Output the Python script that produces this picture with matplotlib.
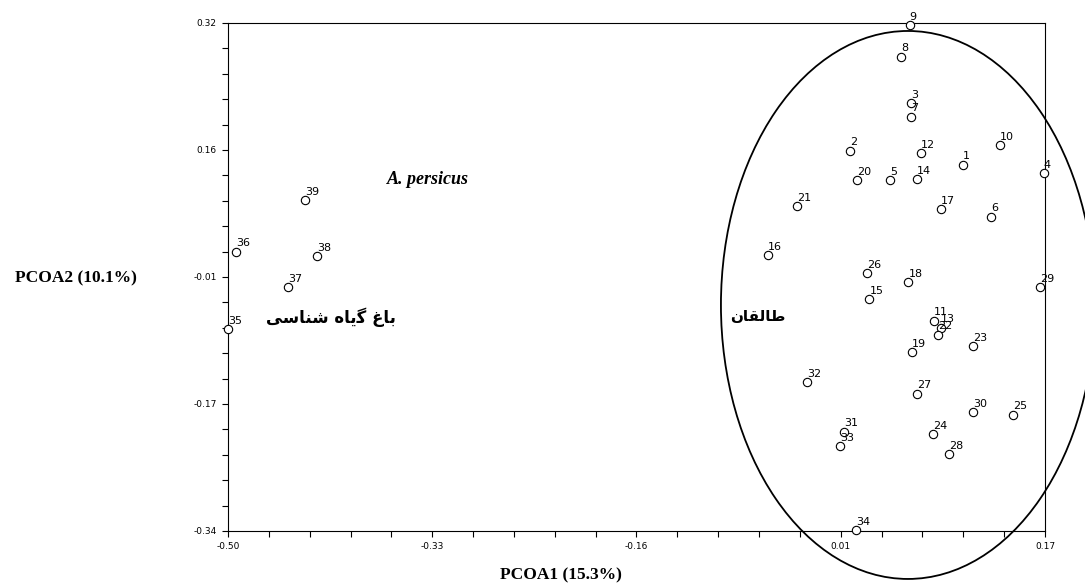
import matplotlib
matplotlib.use('Agg')
import matplotlib.pyplot as plt
from matplotlib.patches import Ellipse
import numpy as np

# PCoA scores for the 39 accessions
sample_ids = list(range(1, 40))
pcoa1 = [0.103, 0.010, 0.060, 0.169, 0.043, 0.126, 0.060, 0.052, 0.059, 0.133,
         0.079, 0.068, 0.085, 0.065, 0.026, -0.057, 0.085, 0.058, 0.061, 0.016,
         -0.033, 0.082, 0.111, 0.078, 0.144, 0.024, 0.065, 0.091, 0.166, 0.111,
         0.005, -0.025, 0.002, 0.015, -0.500, -0.493, -0.451, -0.427, -0.437]
pcoa2 = [0.136, 0.154, 0.216, 0.125, 0.116, 0.068, 0.198, 0.276, 0.317, 0.161,
         -0.067, 0.151, -0.076, 0.117, -0.039, 0.018, 0.078, -0.017, -0.108, 0.116,
         0.082, -0.085, -0.100, -0.214, -0.189, -0.005, -0.162, -0.240, -0.023, -0.186,
         -0.211, -0.147, -0.230, -0.339, -0.078, 0.023, -0.023, 0.017, 0.090]

x_ticks = [-0.50, -0.3325, -0.165, 0.0025, 0.17]
x_tick_labels = ['-0.50', '-0.33', '-0.16', '0.01', '0.17']
y_ticks = [0.32, 0.155, -0.01, -0.175, -0.34]
y_tick_labels = ['0.32', '0.16', '-0.01', '-0.17', '-0.34']


def shape_rtl(glyphs):
    # matplotlib has no bidi/shaping: glyphs are given in presentation forms,
    # logical order, and reversed here for left-to-right drawing
    return ''.join(reversed(glyphs))


# باغ گیاه شناسی
garden = shape_rtl('\uFE91\uFE8E\uFECD \uFB94\uFBFE\uFE8E\uFEE9 \uFEB7\uFEE8\uFE8E\uFEB3\uFBFD')
# طالقان
taleghan = shape_rtl('\uFEC3\uFE8E\uFEDF\uFED8\uFE8E\uFEE5')

fig = plt.figure(figsize=(10.85, 5.86), dpi=100)
ax = fig.add_axes([0.2101, 0.0939, 0.7530, 0.8669])

ax.plot(pcoa1, pcoa2, linestyle='none', marker='o', markersize=6,
        markerfacecolor='white', markeredgecolor='black', markeredgewidth=0.8,
        clip_on=False, zorder=3)
for sid, x, y in zip(sample_ids, pcoa1, pcoa2):
    ax.annotate(str(sid), (x, y), xytext=(0, 2.5), textcoords='offset points',
                ha='left', va='bottom', fontsize=8, color='black',
                annotation_clip=False, zorder=4)

ax.set_xlim(-0.50, 0.17)
ax.set_ylim(-0.34, 0.32)
ax.set_xticks(x_ticks)
ax.set_xticklabels(x_tick_labels)
ax.set_yticks(y_ticks)
ax.set_yticklabels(y_tick_labels)
ax.set_xticks(np.linspace(-0.50, 0.17, 21), minor=True)
ax.set_yticks(np.linspace(-0.34, 0.32, 21), minor=True)
ax.tick_params(which='both', direction='out', length=4.5, width=0.8, labelsize=6.5)
for sp in ax.spines.values():
    sp.set_linewidth(0.8)

ax.set_xlabel('PCOA1 (15.3%)', fontfamily='Liberation Serif', fontweight='bold', fontsize=12.5)
ax.xaxis.set_label_coords(0.4076, -0.071)
ax.xaxis.label.set_va('top')
ax.set_ylabel('PCOA2 (10.1%)', fontfamily='Liberation Serif', fontweight='bold', fontsize=12.5,
              rotation=0, ha='center', va='center')
ax.yaxis.set_label_coords(-0.186, 0.498)

ax.text(0.2448, 0.691, 'A. persicus', transform=ax.transAxes, ha='center', va='center',
        fontfamily='Liberation Serif', fontweight='bold', fontstyle='italic', fontsize=13)
ax.text(0.126, 0.4213, garden, transform=ax.transAxes, ha='center', va='center',
        fontfamily='DejaVu Sans', fontweight='bold', fontsize=12)
ax.text(0.6487, 0.4213, taleghan, transform=ax.transAxes, ha='center', va='center',
        fontfamily='DejaVu Sans', fontweight='bold', fontsize=11)

ell = Ellipse((0.8323, 0.4449), 0.4578, 1.0787, transform=ax.transAxes,
              fill=False, edgecolor='black', linewidth=1.3, clip_on=False)
ax.add_patch(ell)

plt.savefig('out.png', dpi=100)
